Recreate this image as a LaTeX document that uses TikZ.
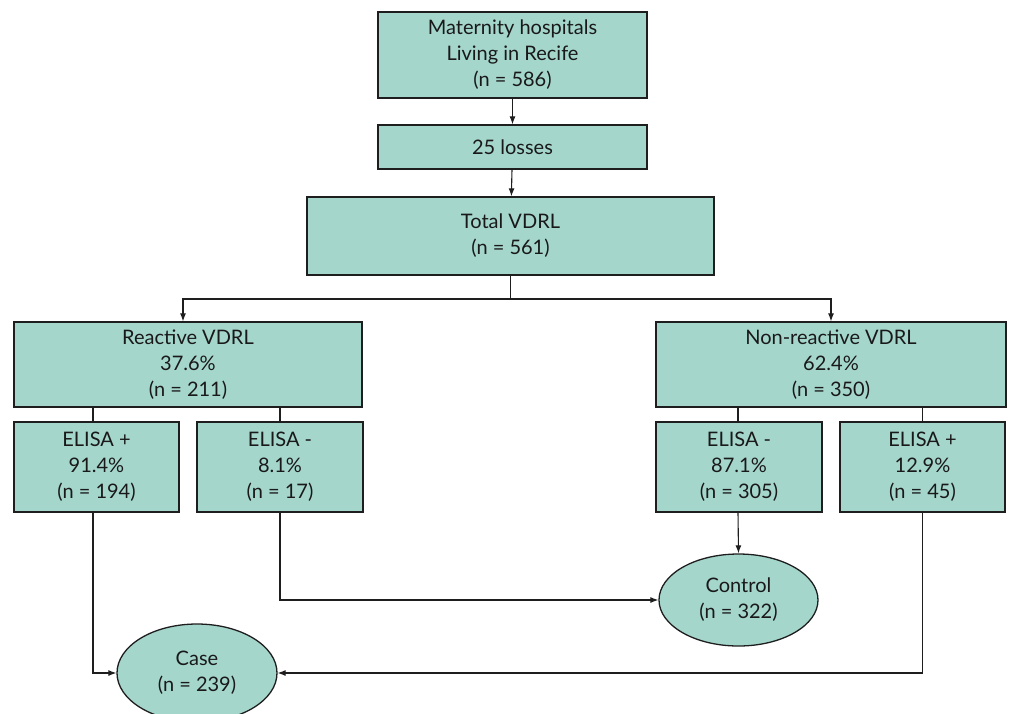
\documentclass[tikz,border=0pt]{standalone}
\usepackage{fontspec}
\setmainfont{Lato}
\usetikzlibrary{shapes.geometric,arrows.meta}
\definecolor{boxfill}{RGB}{165,214,204}
\definecolor{edge}{RGB}{30,30,30}
\begin{document}
\begin{tikzpicture}[x=1pt,y=-1pt,
  every node/.style={font=\fontsize{20}{26}\selectfont, text=black!90},
  fbox/.style={draw=edge, line width=1.3pt, fill=boxfill, rectangle, align=center, inner sep=0pt},
  fell/.style={draw=edge, line width=1.3pt, fill=boxfill, ellipse, align=center, inner sep=0pt},
  conn/.style={draw=edge, line width=1.1pt},
  arr/.style={conn, -{Latex[length=8pt,width=6pt]}}
]
\useasboundingbox (0,0) rectangle (1009,713);
\node[fbox, minimum width=269pt, minimum height=86pt] (top) at (512.5,55) {Maternity hospitals\\Living in Recife\\(n = 586)};
\node[fbox, minimum width=269pt, minimum height=44pt] (loss) at (512.5,147) {25 losses};
\node[fbox, minimum width=407pt, minimum height=78pt] (total) at (510.5,236) {Total VDRL\\(n = 561)};
\node[fbox, minimum width=348pt, minimum height=85pt] (react) at (188,364.5) {Reactive VDRL\\37.6\%\\(n = 211)};
\node[fbox, minimum width=350pt, minimum height=85pt] (nonr) at (831,364.5) {Non-reactive VDRL\\62.4\%\\(n = 350)};
\node[fbox, minimum width=165pt, minimum height=90pt] (ep1) at (96.5,467) {ELISA +\\91.4\%\\(n = 194)};
\node[fbox, minimum width=166pt, minimum height=90pt] (em1) at (280,467) {ELISA -\\8.1\%\\(n = 17)};
\node[fbox, minimum width=166pt, minimum height=90pt] (em2) at (739,467) {ELISA -\\87.1\%\\(n = 305)};
\node[fbox, minimum width=165pt, minimum height=90pt] (ep2) at (922.5,467) {ELISA +\\12.9\%\\(n = 45)};
\node[fell, minimum width=159pt, minimum height=92pt] (control) at (738.5,600) {Control\\(n = 322)};
\node[fell, minimum width=160pt, minimum height=98pt] (case) at (197,673) {Case\\(n = 239)};
\coordinate (split) at (510.5,299);
\draw[arr] (top) -- (loss);
\draw[arr] (loss) -- (total);
\draw[conn] (total.south) -- (split);
\draw[arr] (split) -| ([xshift=-5pt]react.north);
\draw[arr] (split) -| (nonr.north);
\draw[conn] ([xshift=-3.5pt]ep1.north) -- ([xshift=-3.5pt]ep1.north |- react.south);
\draw[conn] (em1.north) -- (em1.north |- react.south);
\draw[conn] ([xshift=-1pt]em2.north) -- ([xshift=-1pt]em2.north |- nonr.south);
\draw[conn] (ep2.north) -- (ep2.north |- nonr.south);
\draw[arr] ([xshift=-3.5pt]ep1.south) |- (case.west);
\draw[arr] (em1.south) |- (control.west);
\draw[arr] ([xshift=-1pt]em2.south) -- (control.north);
\draw[arr] (ep2.south) |- (case.east);
\end{tikzpicture}
\end{document}
